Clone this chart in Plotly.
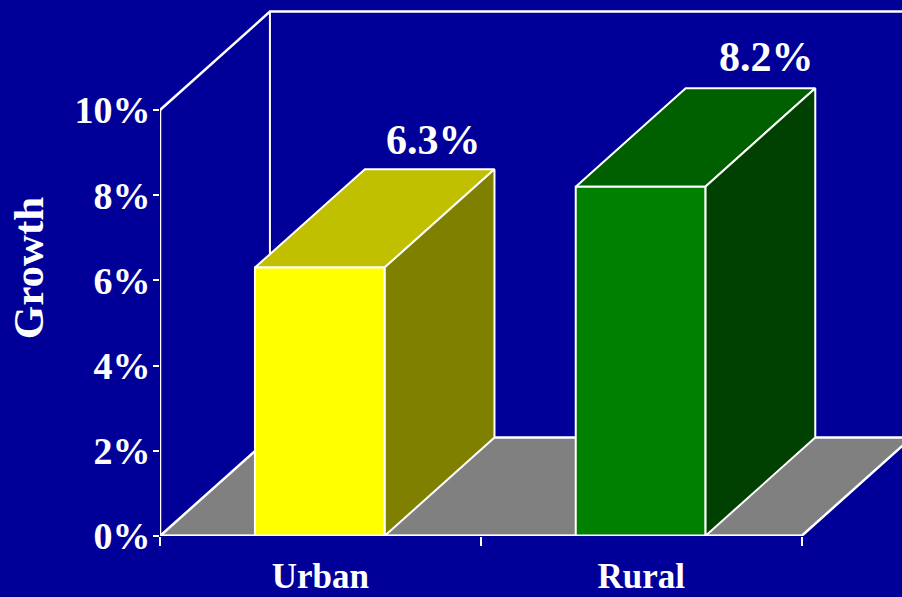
import plotly.graph_objects as go

categories = ["Urban", "Rural"]
growth = [6.3, 8.2]
front_colors = ["#ffff00", "#008000"]
top_colors = ["#c0c000", "#006000"]
side_colors = ["#808000", "#004000"]
y_ticks = [0, 2, 4, 6, 8, 10]
y_labels = ["0%", "2%", "4%", "6%", "8%", "10%"]

BG = "#000099"
WHITE = "#ffffff"
FONT = "Liberation Serif"
DX, DY = 0.3427, 2.31     # oblique depth in axis units
BAR_L, BAR_R = 0.296, 0.70
XMAX = 2.0

fig = go.Figure()

def poly(xs, ys, fill, lw=2):
    fig.add_trace(go.Scatter(x=xs + xs[:1], y=ys + ys[:1], mode="lines", fill="toself",
                             fillcolor=fill, line=dict(color=WHITE, width=lw),
                             hoverinfo="skip", showlegend=False, cliponaxis=False))

def line(xs, ys, lw=2):
    fig.add_trace(go.Scatter(x=xs, y=ys, mode="lines", line=dict(color=WHITE, width=lw),
                             hoverinfo="skip", showlegend=False, cliponaxis=False))

TOP = y_ticks[-1]
# walls
line([0, DX, XMAX + 1], [TOP, TOP + DY, TOP + DY], 2.5)
line([DX, DX], [TOP + DY, DY], 2)
# floor
poly([0, XMAX, XMAX + DX, DX], [0, 0, DY, DY], "#808080", 2.5)
line([0, 0], [0, TOP], 2.5)

# bars
for i, v in enumerate(growth):
    l, r = i + BAR_L, i + BAR_R
    poly([l, r, r + DX, l + DX], [v, v, v + DY, v + DY], top_colors[i], 2)
    poly([r, r + DX, r + DX, r], [0, DY, v + DY, v], side_colors[i], 2)
    poly([l, r, r, l], [0, 0, v, v], front_colors[i], 2)

line([0, XMAX], [0, 0], 3)

# value labels
for i, (v, xs, ys) in enumerate(zip(growth, (4, 16), (4, 6))):
    fig.add_annotation(
        x=i + (BAR_L + BAR_R) / 2 + DX, y=v + DY, xref="x", yref="y",
        text=f"{v}%", showarrow=False, yanchor="bottom", xshift=xs, yshift=ys,
        font=dict(family=FONT, size=42, color=WHITE, weight="bold"))

fig.update_layout(
    width=902, height=597, paper_bgcolor=BG, plot_bgcolor=BG,
    margin=dict(l=159.5, r=0, t=0, b=61, autoexpand=False), showlegend=False,
    xaxis=dict(range=[0, 742.5 / 321], showgrid=False, zeroline=False, showline=False,
               automargin=False,
               tickmode="array", tickvals=[0.5, 1.5], ticktext=categories, ticks="",
               ticklabelstandoff=16,
               tickfont=dict(family=FONT, size=35, color=WHITE, weight="bold"),
               minor=dict(ticks="outside", tickmode="array", tickvals=[0, 1, 2], ticklen=9,
                          tickwidth=1.5, tickcolor=WHITE, showgrid=False)),
    yaxis=dict(range=[0, 536 / 42.6], showgrid=False, zeroline=False, showline=False,
               automargin=False,
               tickmode="array", tickvals=y_ticks, ticktext=y_labels, ticks="outside",
               ticklen=6, tickwidth=1.5, tickcolor=WHITE, ticklabelstandoff=-5,
               tickfont=dict(family=FONT, size=38, color=WHITE, weight="bold"),
               title=dict(text="Growth", standoff=17,
                          font=dict(family=FONT, size=43, color=WHITE, weight="bold"))),
)
fig.write_html("out.html", config=dict(displayModeBar=False),
               post_script="document.body.style.margin='0';")
